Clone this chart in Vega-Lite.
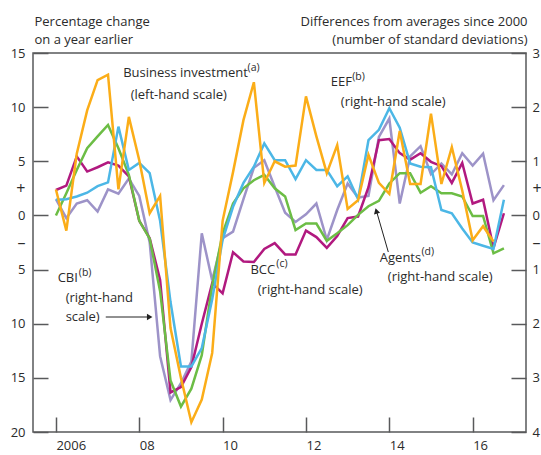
{
  "$schema": "https://vega.github.io/schema/vega-lite/v6.json",
  "width": 493,
  "height": 379,
  "autosize": {"type": "none"},
  "padding": {"left": 33, "top": 53, "right": 15, "bottom": 23},
  "config": {
    "font": "Open Sans",
    "view": {"stroke": "#58595b", "strokeWidth": 1.5},
    "axis": {"domain": false, "grid": false, "tickColor": "#58595b", "tickWidth": 1.5, "labelColor": "#2b2b2b", "labelFontSize": 13, "titleColor": "#2b2b2b", "titleFontWeight": "normal", "titleFontSize": 13, "titleFont": "Open Sans", "labelFont": "Open Sans"}
  },
  "datasets": {
    "invest": [
      {"t":2006.0,"v":2.4},{"t":2006.25,"v":-1.4},{"t":2006.5,"v":5.7},{"t":2006.75,"v":9.7},
      {"t":2007.0,"v":12.5},{"t":2007.25,"v":13.0},{"t":2007.5,"v":2.4},{"t":2007.75,"v":9.1},
      {"t":2008.0,"v":5.1},{"t":2008.25,"v":0.2},{"t":2008.5,"v":1.8},{"t":2008.75,"v":-10.4},
      {"t":2009.0,"v":-15.0},{"t":2009.25,"v":-19.1},{"t":2009.5,"v":-17.0},{"t":2009.75,"v":-12.7},
      {"t":2010.0,"v":-0.5},{"t":2010.25,"v":4.0},{"t":2010.5,"v":8.8},{"t":2010.75,"v":12.3},
      {"t":2011.0,"v":3.0},{"t":2011.25,"v":5.0},{"t":2011.5,"v":4.5},{"t":2011.75,"v":4.6},
      {"t":2012.0,"v":11.0},{"t":2012.25,"v":7.3},{"t":2012.5,"v":3.9},{"t":2012.75,"v":6.5},
      {"t":2013.0,"v":0.6},{"t":2013.25,"v":1.4},{"t":2013.5,"v":5.6},{"t":2013.75,"v":3.0},
      {"t":2014.0,"v":2.0},{"t":2014.25,"v":7.8},{"t":2014.5,"v":2.9},{"t":2014.75,"v":2.9},
      {"t":2015.0,"v":9.4},{"t":2015.25,"v":2.9},{"t":2015.5,"v":6.3},{"t":2015.75,"v":2.3},
      {"t":2016.0,"v":-2.3},{"t":2016.25,"v":-1.0},{"t":2016.5,"v":-2.4}
    ],
    "surveys": [
      {"s":"CBI","t":2006.0,"v":0.3},{"s":"CBI","t":2006.25,"v":-0.05},{"s":"CBI","t":2006.5,"v":0.22},{"s":"CBI","t":2006.75,"v":0.28},
      {"s":"CBI","t":2007.0,"v":0.07},{"s":"CBI","t":2007.25,"v":0.48},{"s":"CBI","t":2007.5,"v":0.4},{"s":"CBI","t":2007.75,"v":0.68},
      {"s":"CBI","t":2008.0,"v":0.36},{"s":"CBI","t":2008.25,"v":-0.5},{"s":"CBI","t":2008.5,"v":-2.6},{"s":"CBI","t":2008.75,"v":-3.41},
      {"s":"CBI","t":2009.0,"v":-3.1},{"s":"CBI","t":2009.25,"v":-2.7},{"s":"CBI","t":2009.5,"v":-0.33},{"s":"CBI","t":2009.75,"v":-1.2},
      {"s":"CBI","t":2010.0,"v":-0.42},{"s":"CBI","t":2010.25,"v":-0.3},{"s":"CBI","t":2010.5,"v":0.3},{"s":"CBI","t":2010.75,"v":0.88},
      {"s":"CBI","t":2011.0,"v":1.02},{"s":"CBI","t":2011.25,"v":0.53},{"s":"CBI","t":2011.5,"v":0.05},{"s":"CBI","t":2011.75,"v":-0.12},
      {"s":"CBI","t":2012.0,"v":0.02},{"s":"CBI","t":2012.25,"v":0.22},{"s":"CBI","t":2012.5,"v":-0.45},{"s":"CBI","t":2012.75,"v":0.1},
      {"s":"CBI","t":2013.0,"v":0.59},{"s":"CBI","t":2013.25,"v":0.33},{"s":"CBI","t":2013.5,"v":0.36},{"s":"CBI","t":2013.75,"v":1.45},
      {"s":"CBI","t":2014.0,"v":1.79},{"s":"CBI","t":2014.25,"v":0.22},{"s":"CBI","t":2014.5,"v":1.09},{"s":"CBI","t":2014.75,"v":1.28},
      {"s":"CBI","t":2015.0,"v":0.76},{"s":"CBI","t":2015.25,"v":0.96},{"s":"CBI","t":2015.5,"v":0.76},{"s":"CBI","t":2015.75,"v":1.15},
      {"s":"CBI","t":2016.0,"v":0.92},{"s":"CBI","t":2016.25,"v":1.14},{"s":"CBI","t":2016.5,"v":0.28},{"s":"CBI","t":2016.75,"v":0.56},

      {"s":"BCC","t":2006.0,"v":0.47},{"s":"BCC","t":2006.25,"v":0.55},{"s":"BCC","t":2006.5,"v":1.09},{"s":"BCC","t":2006.75,"v":0.81},
      {"s":"BCC","t":2007.0,"v":0.89},{"s":"BCC","t":2007.25,"v":0.98},{"s":"BCC","t":2007.5,"v":0.92},{"s":"BCC","t":2007.75,"v":0.72},
      {"s":"BCC","t":2008.0,"v":-0.1},{"s":"BCC","t":2008.25,"v":-0.42},{"s":"BCC","t":2008.5,"v":-1.19},{"s":"BCC","t":2008.75,"v":-3.27},
      {"s":"BCC","t":2009.0,"v":-3.17},{"s":"BCC","t":2009.25,"v":-2.8},{"s":"BCC","t":2009.5,"v":-2.0},{"s":"BCC","t":2009.75,"v":-1.25},
      {"s":"BCC","t":2010.0,"v":-1.44},{"s":"BCC","t":2010.25,"v":-0.68},{"s":"BCC","t":2010.5,"v":-0.85},{"s":"BCC","t":2010.75,"v":-0.86},
      {"s":"BCC","t":2011.0,"v":-0.62},{"s":"BCC","t":2011.25,"v":-0.51},{"s":"BCC","t":2011.5,"v":-0.72},{"s":"BCC","t":2011.75,"v":-0.72},
      {"s":"BCC","t":2012.0,"v":-0.28},{"s":"BCC","t":2012.25,"v":-0.4},{"s":"BCC","t":2012.5,"v":-0.6},{"s":"BCC","t":2012.75,"v":-0.38},
      {"s":"BCC","t":2013.0,"v":-0.05},{"s":"BCC","t":2013.25,"v":-0.02},{"s":"BCC","t":2013.5,"v":0.52},{"s":"BCC","t":2013.75,"v":1.39},
      {"s":"BCC","t":2014.0,"v":1.41},{"s":"BCC","t":2014.25,"v":1.15},{"s":"BCC","t":2014.5,"v":1.03},{"s":"BCC","t":2014.75,"v":1.15},
      {"s":"BCC","t":2015.0,"v":0.99},{"s":"BCC","t":2015.25,"v":0.91},{"s":"BCC","t":2015.5,"v":0.6},{"s":"BCC","t":2015.75,"v":0.97},
      {"s":"BCC","t":2016.0,"v":0.22},{"s":"BCC","t":2016.25,"v":0.29},{"s":"BCC","t":2016.5,"v":-0.6},{"s":"BCC","t":2016.75,"v":0.04},

      {"s":"Agents","t":2006.0,"v":0.0},{"s":"Agents","t":2006.25,"v":0.41},{"s":"Agents","t":2006.5,"v":0.84},{"s":"Agents","t":2006.75,"v":1.24},
      {"s":"Agents","t":2007.0,"v":1.46},{"s":"Agents","t":2007.25,"v":1.67},{"s":"Agents","t":2007.5,"v":1.24},{"s":"Agents","t":2007.75,"v":0.75},
      {"s":"Agents","t":2008.0,"v":-0.1},{"s":"Agents","t":2008.25,"v":-0.43},{"s":"Agents","t":2008.5,"v":-1.4},{"s":"Agents","t":2008.75,"v":-3.05},
      {"s":"Agents","t":2009.0,"v":-3.53},{"s":"Agents","t":2009.25,"v":-3.2},{"s":"Agents","t":2009.5,"v":-2.58},{"s":"Agents","t":2009.75,"v":-1.3},
      {"s":"Agents","t":2010.0,"v":-0.33},{"s":"Agents","t":2010.25,"v":0.22},{"s":"Agents","t":2010.5,"v":0.5},{"s":"Agents","t":2010.75,"v":0.65},
      {"s":"Agents","t":2011.0,"v":0.75},{"s":"Agents","t":2011.25,"v":0.5},{"s":"Agents","t":2011.5,"v":0.35},{"s":"Agents","t":2011.75,"v":-0.27},
      {"s":"Agents","t":2012.0,"v":-0.15},{"s":"Agents","t":2012.25,"v":-0.15},{"s":"Agents","t":2012.5,"v":-0.47},{"s":"Agents","t":2012.75,"v":-0.33},
      {"s":"Agents","t":2013.0,"v":-0.18},{"s":"Agents","t":2013.25,"v":0.01},{"s":"Agents","t":2013.5,"v":0.17},{"s":"Agents","t":2013.75,"v":0.27},
      {"s":"Agents","t":2014.0,"v":0.59},{"s":"Agents","t":2014.25,"v":0.78},{"s":"Agents","t":2014.5,"v":0.78},{"s":"Agents","t":2014.75,"v":0.42},
      {"s":"Agents","t":2015.0,"v":0.54},{"s":"Agents","t":2015.25,"v":0.41},{"s":"Agents","t":2015.5,"v":0.41},{"s":"Agents","t":2015.75,"v":0.35},
      {"s":"Agents","t":2016.0,"v":-0.01},{"s":"Agents","t":2016.25,"v":-0.01},{"s":"Agents","t":2016.5,"v":-0.7},{"s":"Agents","t":2016.75,"v":-0.61},

      {"s":"EEF","t":2006.0,"v":0.29},{"s":"EEF","t":2006.25,"v":0.3},{"s":"EEF","t":2006.5,"v":0.35},{"s":"EEF","t":2006.75,"v":0.42},
      {"s":"EEF","t":2007.0,"v":0.54},{"s":"EEF","t":2007.25,"v":0.61},{"s":"EEF","t":2007.5,"v":1.64},{"s":"EEF","t":2007.75,"v":0.84},
      {"s":"EEF","t":2008.0,"v":0.97},{"s":"EEF","t":2008.25,"v":0.78},{"s":"EEF","t":2008.5,"v":-0.1},{"s":"EEF","t":2008.75,"v":-1.6},
      {"s":"EEF","t":2009.0,"v":-2.79},{"s":"EEF","t":2009.25,"v":-2.79},{"s":"EEF","t":2009.5,"v":-2.45},{"s":"EEF","t":2009.75,"v":-1.55},
      {"s":"EEF","t":2010.0,"v":-0.45},{"s":"EEF","t":2010.25,"v":0.16},{"s":"EEF","t":2010.5,"v":0.6},{"s":"EEF","t":2010.75,"v":0.9},
      {"s":"EEF","t":2011.0,"v":1.33},{"s":"EEF","t":2011.25,"v":1.02},{"s":"EEF","t":2011.5,"v":1.02},{"s":"EEF","t":2011.75,"v":0.67},
      {"s":"EEF","t":2012.0,"v":1.02},{"s":"EEF","t":2012.25,"v":0.84},{"s":"EEF","t":2012.5,"v":0.84},{"s":"EEF","t":2012.75,"v":0.54},
      {"s":"EEF","t":2013.0,"v":0.72},{"s":"EEF","t":2013.25,"v":0.3},{"s":"EEF","t":2013.5,"v":1.39},{"s":"EEF","t":2013.75,"v":1.58},
      {"s":"EEF","t":2014.0,"v":1.98},{"s":"EEF","t":2014.25,"v":1.62},{"s":"EEF","t":2014.5,"v":0.96},{"s":"EEF","t":2014.75,"v":0.9},
      {"s":"EEF","t":2015.0,"v":0.89},{"s":"EEF","t":2015.25,"v":0.1},{"s":"EEF","t":2015.5,"v":0.04},{"s":"EEF","t":2015.75,"v":-0.24},
      {"s":"EEF","t":2016.0,"v":-0.5},{"s":"EEF","t":2016.25,"v":-0.56},{"s":"EEF","t":2016.5,"v":-0.62},{"s":"EEF","t":2016.75,"v":0.29}
    ],
    "notes": [
      {"t":2007.613,"v":13.15,"label":"Business investment"},
      {"t":2007.793,"v":11.12,"label":"(left-hand scale)"},
      {"t":2012.596,"v":12.32,"label":"EEF"},
      {"t":2012.836,"v":10.47,"label":"(right-hand scale)"},
      {"t":2006.041,"v":-5.78,"label":"CBI"},
      {"t":2006.233,"v":-7.63,"label":"(right-hand"},
      {"t":2006.233,"v":-9.38,"label":"scale)"},
      {"t":2010.667,"v":-5.04,"label":"BCC"},
      {"t":2010.843,"v":-6.89,"label":"(right-hand scale)"},
      {"t":2013.772,"v":-3.93,"label":"Agents"},
      {"t":2013.964,"v":-5.69,"label":"(right-hand scale)"}
    ],
    "sups": [
      {"t":2010.6,"v":13.6,"label":"(a)"},
      {"t":2013.11,"v":12.75,"label":"(b)"},
      {"t":2006.55,"v":-5.3,"label":"(b)"},
      {"t":2011.29,"v":-4.5,"label":"(c)"},
      {"t":2014.77,"v":-3.38,"label":"(d)"}
    ],
    "arrows": [
      {"t":2007.196,"v":-9.38,"t2":2008.2,"v2":-9.38},
      {"t":2013.976,"v":-3.38,"t2":2013.70,"v2":0.3}
    ],
    "heads": [
      {"t":2008.25,"v":-9.38,"dir":"right"},
      {"t":2013.688,"v":0.41,"dir":"up"}
    ]
  },
  "layer": [
    {
      "mark": {"type": "rule", "color": "#58595b", "strokeWidth": 1.5},
      "encoding": {"y": {"datum": 0, "type": "quantitative", "scale": {"domain": [-20, 15], "nice": false, "zero": false}, "axis": null}}
    },
    {
      "data": {"name": "surveys"},
      "mark": {"type": "line", "strokeWidth": 2.5},
      "encoding": {
        "x": {"field": "t", "type": "quantitative",
          "scale": {"domain": [2005.45, 2017.28], "nice": false, "zero": false},
          "axis": {"orient": "bottom", "values": [2006, 2008, 2010, 2012, 2014, 2016], "format": "d",
            "labelExpr": "datum.value == 2006 ? '2006' : substring(datum.label, 2)",
            "labelAlign": "left", "labelDx": 1, "labelBaseline": "top", "tickSize": -15, "labelPadding": 22, "title": null}},
        "y": {"field": "v", "type": "quantitative",
          "scale": {"domain": [-4, 3], "nice": false, "zero": false},
          "axis": {"orient": "right", "values": [-4, -3, -2, -1, -0.5, 0, 0.5, 1, 2, 3],
            "labelExpr": "datum.value == 0.5 ? '+' : datum.value == -0.5 ? '–' : format(abs(datum.value), 'd')",
            "tickOpacity": {"condition": {"test": "abs(datum.value) == 0.5", "value": 0}, "value": 1},
            "labelFontSize": {"condition": {"test": "abs(datum.value) == 0.5", "value": 16}, "value": 13},
            "tickSize": -15, "labelPadding": 21, "labelAlign": "left",
            "title": ["Differences from averages since 2000", "(number of standard deviations)"], "titleAngle": 0, "titleAlign": "right",
            "titleBaseline": "alphabetic", "titleX": 1, "titleY": -28, "titleLineHeight": 18}},
        "color": {"field": "s", "type": "nominal",
          "scale": {"domain": ["CBI", "BCC", "Agents", "EEF"], "range": ["#9d93c8", "#b1197f", "#6cbd45", "#4cb7e6"]},
          "legend": null}
      }
    },
    {
      "data": {"name": "invest"},
      "mark": {"type": "line", "color": "#fbad18", "strokeWidth": 2.5},
      "encoding": {
        "x": {"field": "t", "type": "quantitative",
          "scale": {"domain": [2005.45, 2017.28], "nice": false, "zero": false},
          "axis": {"orient": "bottom", "values": [2006, 2008, 2010, 2012, 2014, 2016], "format": "d",
            "labelExpr": "datum.value == 2006 ? '2006' : substring(datum.label, 2)",
            "labelAlign": "left", "labelDx": 1, "labelBaseline": "top", "tickSize": -15, "labelPadding": 22, "title": null}},
        "y": {"field": "v", "type": "quantitative",
          "scale": {"domain": [-20, 15], "nice": false, "zero": false},
          "axis": {"orient": "left", "values": [-20, -15, -10, -5, -2.5, 0, 2.5, 5, 10, 15],
            "labelExpr": "datum.value == 2.5 ? '+' : datum.value == -2.5 ? '–' : format(abs(datum.value), 'd')",
            "tickOpacity": {"condition": {"test": "abs(datum.value) == 2.5", "value": 0}, "value": 1},
            "labelFontSize": {"condition": {"test": "abs(datum.value) == 2.5", "value": 16}, "value": 13},
            "tickSize": -15, "labelPadding": 23, "labelAlign": "right",
            "title": ["Percentage change", "on a year earlier"], "titleAngle": 0, "titleAlign": "left",
            "titleBaseline": "alphabetic", "titleX": 1, "titleY": -28, "titleLineHeight": 18}}
      }
    },
    {
      "data": {"name": "notes"},
      "mark": {"type": "text", "align": "left", "baseline": "middle", "fontSize": 13, "color": "#2b2b2b"},
      "encoding": {
        "x": {"field": "t", "type": "quantitative", "scale": {"domain": [2005.45, 2017.28], "nice": false, "zero": false}},
        "y": {"field": "v", "type": "quantitative", "scale": {"domain": [-20, 15], "nice": false, "zero": false}, "axis": null},
        "text": {"field": "label"}
      }
    },
    {
      "data": {"name": "sups"},
      "mark": {"type": "text", "align": "left", "baseline": "middle", "fontSize": 10.5, "color": "#2b2b2b"},
      "encoding": {
        "x": {"field": "t", "type": "quantitative", "scale": {"domain": [2005.45, 2017.28], "nice": false, "zero": false}},
        "y": {"field": "v", "type": "quantitative", "scale": {"domain": [-20, 15], "nice": false, "zero": false}, "axis": null},
        "text": {"field": "label"}
      }
    },
    {
      "data": {"name": "arrows"},
      "mark": {"type": "rule", "color": "#222222", "strokeWidth": 1},
      "encoding": {
        "x": {"field": "t", "type": "quantitative", "scale": {"domain": [2005.45, 2017.28], "nice": false, "zero": false}},
        "y": {"field": "v", "type": "quantitative", "scale": {"domain": [-20, 15], "nice": false, "zero": false}, "axis": null},
        "x2": {"field": "t2"},
        "y2": {"field": "v2"}
      }
    },
    {
      "data": {"name": "heads"},
      "transform": [{"filter": "datum.dir == 'right'"}],
      "mark": {"type": "point", "shape": "triangle-right", "filled": true, "size": 40, "color": "#222222", "opacity": 1},
      "encoding": {
        "x": {"field": "t", "type": "quantitative", "scale": {"domain": [2005.45, 2017.28], "nice": false, "zero": false}},
        "y": {"field": "v", "type": "quantitative", "scale": {"domain": [-20, 15], "nice": false, "zero": false}, "axis": null}
      }
    },
    {
      "data": {"name": "heads"},
      "transform": [{"filter": "datum.dir == 'up'"}],
      "mark": {"type": "point", "shape": "triangle-up", "filled": true, "size": 40, "angle": -16, "color": "#222222", "opacity": 1},
      "encoding": {
        "x": {"field": "t", "type": "quantitative", "scale": {"domain": [2005.45, 2017.28], "nice": false, "zero": false}},
        "y": {"field": "v", "type": "quantitative", "scale": {"domain": [-20, 15], "nice": false, "zero": false}, "axis": null}
      }
    }
  ],
  "resolve": {"scale": {"y": "independent"}, "axis": {"y": "independent"}}
}
